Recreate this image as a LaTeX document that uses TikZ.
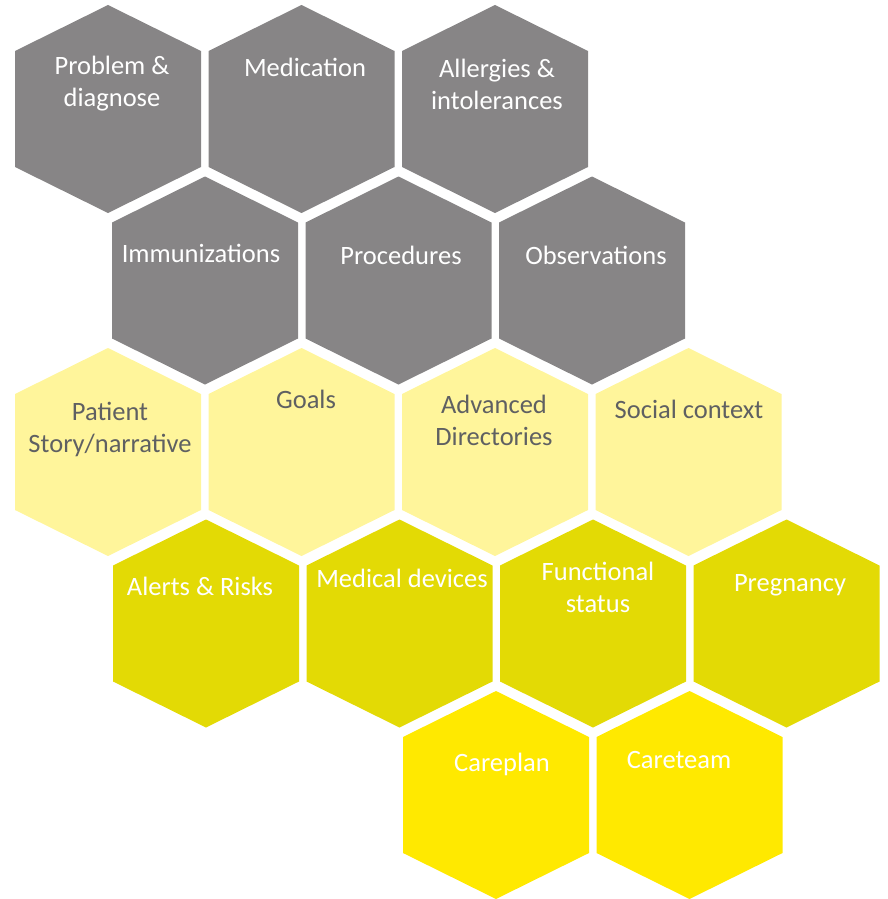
\documentclass[tikz,border=0pt]{standalone}
\usepackage{fontspec}
\setmainfont{Carlito}
\definecolor{hgray}{HTML}{878586}
\definecolor{hlight}{HTML}{FFF59B}
\definecolor{holive}{HTML}{E3DA05}
\definecolor{hbright}{HTML}{FFE900}
\definecolor{tgray}{HTML}{5F6062}
\newcommand{\hexa}[4]{%
  \coordinate (#1) at (#2,#3);
  \fill[#4, shift={(#1)}] (-93,-58) -- (0,-104) -- (93,-58) -- (93,58) -- (0,104) -- (-93,58) -- cycle;}
\tikzset{
  lbl/.style={font=\fontsize{26.5}{32}\selectfont, align=center, inner sep=0pt},
  wl/.style={lbl, text=white},
  gl/.style={lbl, text=tgray}
}
\begin{document}
\begin{tikzpicture}[x=1pt,y=-1pt]
\useasboundingbox (0,0) rectangle (888,899);
% row 1
\hexa{h11}{108}{109}{hgray}
\hexa{h12}{301.5}{109}{hgray}
\hexa{h13}{495}{109}{hgray}
% row 2
\hexa{h21}{205}{280.5}{hgray}
\hexa{h22}{398.5}{280.5}{hgray}
\hexa{h23}{592}{280.5}{hgray}
% row 3
\hexa{h31}{108}{452}{hlight}
\hexa{h32}{301.5}{452}{hlight}
\hexa{h33}{495}{452}{hlight}
\hexa{h34}{688.5}{452}{hlight}
% row 4
\hexa{h41}{206}{623.5}{holive}
\hexa{h42}{399.5}{623.5}{holive}
\hexa{h43}{593}{623.5}{holive}
\hexa{h44}{786.5}{623.5}{holive}
% row 5
\hexa{h51}{496}{795}{hbright}
\hexa{h52}{689.5}{795}{hbright}
% labels
\node[wl] (t11) at (112,84) {Problem \&\\diagnose};
\node[wl,anchor=base] (t12) at (305,77) {Medication};
\node[wl] (t13) at (497,84) {Allergies \&\\intolerances};
\node[wl,anchor=base] (t21) at (201,262) {Immunizations};
\node[wl,anchor=base] (t22) at (401,264) {Procedures};
\node[wl,anchor=base] (t23) at (596,264) {Observations};
\node[gl] (t31) at (110,429) {Patient\\Story/narrative};
\node[gl,anchor=base] (t32) at (306,408) {Goals};
\node[gl] (t33) at (494,420) {Advanced\\Directories};
\node[gl,anchor=base] (t34) at (689,418) {Social context};
\node[wl,anchor=base] (t41) at (200,595) {Alerts \& Risks};
\node[wl,anchor=base] (t42) at (402,587) {Medical devices};
\node[wl] (t43) at (598,587) {Functional\\status};
\node[wl,anchor=base] (t44) at (790,591) {Pregnancy};
\node[wl,anchor=base] (t51) at (502,771) {Careplan};
\node[wl,anchor=base] (t52) at (679,768) {Careteam};
\end{tikzpicture}
\end{document}
